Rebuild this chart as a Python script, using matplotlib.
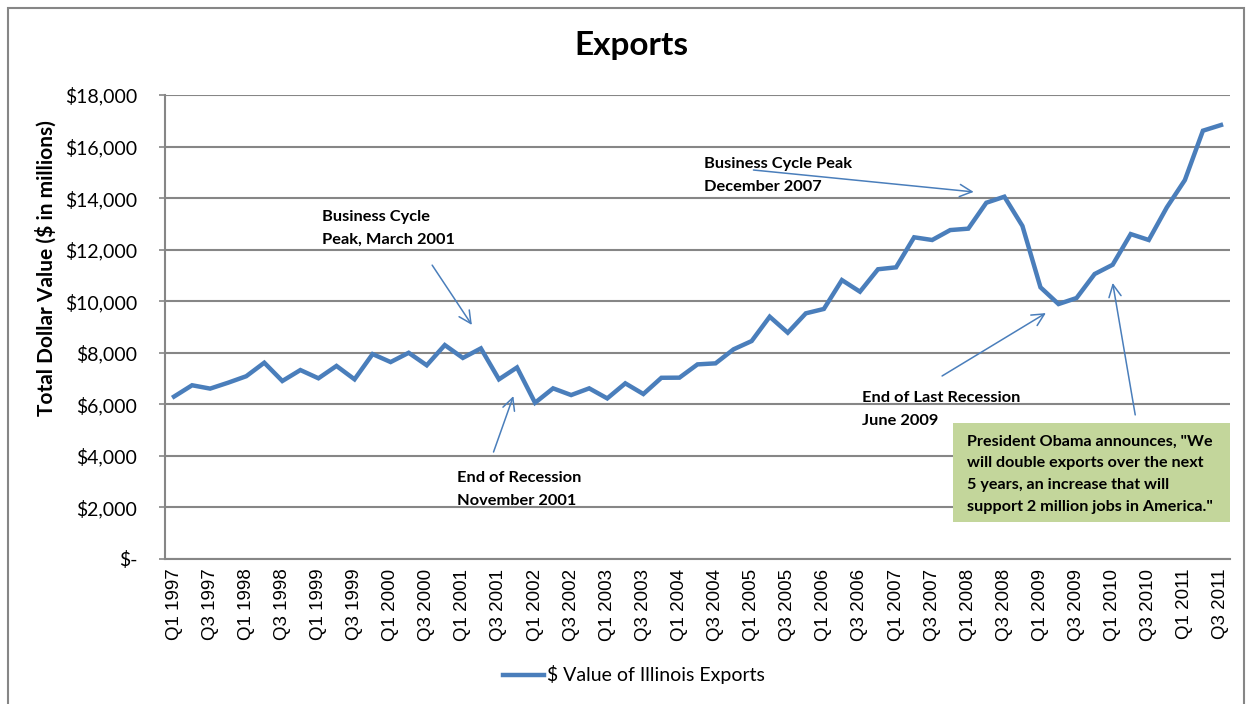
import matplotlib
matplotlib.use("Agg")
import matplotlib.pyplot as plt
from matplotlib.patches import Rectangle
from matplotlib.ticker import FuncFormatter

# Quarterly Illinois exports, $ millions, Q1 1997 .. Q3 2011
years = list(range(1997, 2012))
quarters = [f"Q{q} {y}" for y in years for q in (1, 2, 3, 4)][:59]
exports = [6300, 6740, 6610, 6840, 7090, 7615, 6905, 7330, 7010, 7490,
           6970, 7950, 7640, 8000, 7515, 8300, 7800, 8170, 6970, 7430,
           6060, 6620, 6360, 6620, 6230, 6815, 6400, 7030, 7035, 7550,
           7590, 8135, 8455, 9400, 8780, 9530, 9700, 10820, 10370, 11240,
           11315, 12480, 12375, 12760, 12815, 13820, 14055, 12920, 10540, 9890,
           10125, 11055, 11415, 12605, 12375, 13640, 14700, 16615, 16835]
series_name = "$ Value of Illinois Exports"

calibri = ["Lato", "DejaVu Sans"]
arial = ["Liberation Sans", "DejaVu Sans"]
blue = "#4a7ebb"
grey = "#868686"

fig = plt.figure(figsize=(12.47, 7.04), dpi=100)
ax = fig.add_axes([165 / 1247, 1 - 559 / 704, 1065 / 1247, 464 / 704])

x = list(range(len(exports)))
ax.plot(x, exports, color=blue, lw=3.2, solid_joinstyle="miter",
        label=series_name, zorder=3)

ax.set_xlim(-0.5, len(exports) - 0.5)
ax.set_ylim(0, 18000)
ax.set_yticks(range(0, 18001, 2000))
ax.yaxis.set_major_formatter(FuncFormatter(
    lambda v, p: "$-" if v == 0 else f"${v:,.0f}"))
ax.set_xticks(x[::2])
ax.set_xticklabels(quarters[::2], rotation=90, family=arial, fontsize=13.5)
for lab in ax.get_yticklabels():
    lab.set_family(calibri)
    lab.set_fontsize(14)
ax.tick_params(axis="x", length=0, pad=7)
ax.tick_params(axis="y", length=4, width=1.2, color=grey, pad=16)

ax.grid(axis="y", color=grey, lw=1.5, zorder=0)
ax.set_axisbelow(True)
for s in ("top", "right"):
    ax.spines[s].set_visible(False)
for s in ("left", "bottom"):
    ax.spines[s].set_color(grey)
    ax.spines[s].set_linewidth(1.5)

ax.set_ylabel("Total Dollar Value ($ in millions)", family=calibri,
              fontweight="bold", fontsize=15)
ax.yaxis.set_label_coords(-0.102, 0.627)

# Annotations
arrow = dict(arrowstyle="->", color=blue, lw=1.1, mutation_scale=22,
             shrinkA=0, shrinkB=0)
tkw = dict(family=calibri, fontweight="bold", fontsize=11.8, va="top",
           ha="left", linespacing=1.8)

ax.text(8.2, 13540, "Business Cycle\nPeak, March 2001", **tkw)
ax.annotate("", xy=(16.5, 9080), xytext=(14.3, 11400), arrowprops=arrow)

ax.text(15.7, 3420, "End of Recession\nNovember 2001", **tkw)
ax.annotate("", xy=(18.8, 6320), xytext=(17.7, 4150), arrowprops=arrow)

ax.text(29.35, 15590, "Business Cycle Peak\nDecember 2007", **tkw)
ax.annotate("", xy=(44.3, 14240), xytext=(32.1, 15090), arrowprops=arrow)

ax.text(38.1, 6520, "End of Last Recession\nJune 2009", **tkw)
ax.annotate("", xy=(48.3, 9540), xytext=(42.55, 7100), arrowprops=arrow)

ax.add_patch(Rectangle((43.15, 1430), 58.5 - 43.15, 3850,
                       facecolor="#c3d69b", edgecolor="none", zorder=2))
ax.text(43.95, 3290, "President Obama announces, \"We\n"
        "will double exports over the next\n"
        "5 years, an increase that will\n"
        "support 2 million jobs in America.\"",
        family=calibri, fontweight="bold", fontsize=11.6, va="center",
        ha="left", linespacing=1.72, zorder=4)
ax.annotate("", xy=(52.0, 10710), xytext=(53.25, 5590), arrowprops=arrow)

fig.text(631 / 1247, 1 - 46 / 704, "Exports", family=calibri,
         fontweight="bold", fontsize=24, ha="center", va="center")

leg = fig.legend(loc="center", bbox_to_anchor=(634 / 1247, 1 - 675 / 704),
                 frameon=False, prop=dict(family=calibri, size=14),
                 handlelength=2.1, handletextpad=0.2)

# outer chart border
fig.patches.append(Rectangle((8 / 1247, -0.05), 1236 / 1247, 1.05 - 8 / 704,
                             transform=fig.transFigure, fill=False,
                             edgecolor=grey, lw=1.5))

fig.savefig("out.png", dpi=100)
